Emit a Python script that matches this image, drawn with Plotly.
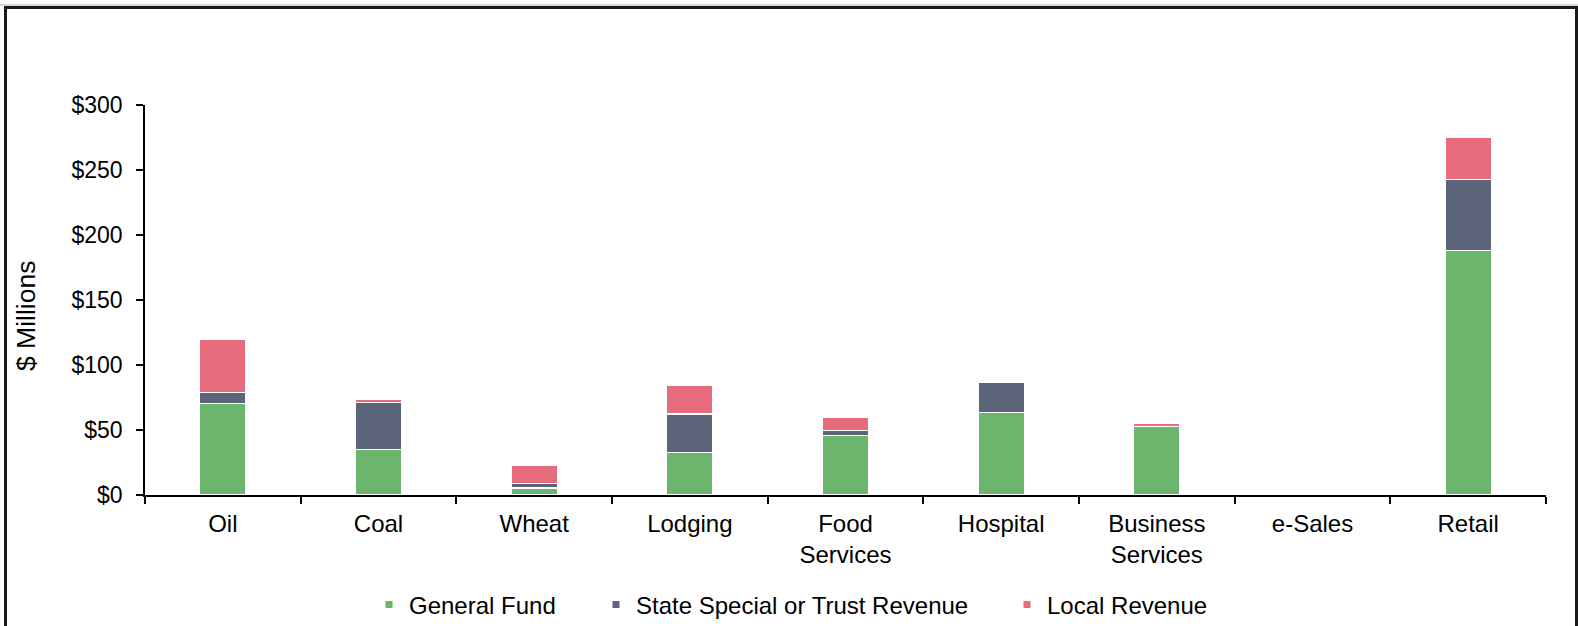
import plotly.graph_objects as go

categories = ["Oil", "Coal", "Wheat", "Lodging", "Food<br>Services", "Hospital",
              "Business<br>Services", "e-Sales", "Retail"]
general_fund = [70.3, 35.0, 5.4, 32.6, 45.7, 63.6, 52.8, 0, 188.2]
state_special = [8.7, 36.3, 3.4, 29.7, 3.8, 23.1, 0, 0, 54.6]
local_revenue = [40.5, 2.7, 14.0, 21.9, 10.0, 0, 2.4, 0, 32.6]

y_tickvals = [0, 50, 100, 150, 200, 250, 300]
y_ticktext = ["$0", "$50", "$100", "$150", "$200", "$250", "$300"]

series = [
    ("General Fund", general_fund, "#6BB66C", "legend"),
    ("State Special or Trust Revenue", state_special, "#5B6478", "legend2"),
    ("Local Revenue", local_revenue, "#E66B7D", "legend3"),
]

FONT = "Liberation Sans, Arial, sans-serif"

fig = go.Figure()
for name, vals, color, lg in series:
    fig.add_trace(go.Bar(
        x=categories, y=vals, name=name, showlegend=False,
        marker=dict(color=color, line=dict(color="white", width=1.5)),
    ))
for name, vals, color, lg in series:
    fig.add_trace(go.Scatter(
        x=[None], y=[None], mode="markers", name=name, legend=lg,
        marker=dict(symbol="square", size=7, color=color),
    ))

W, H = 1578, 626
L, R, T, B = 145, 32, 105, 131
pw, ph = W - L - R, H - T - B


def px(xp):
    return (xp - L) / pw


def py(yp):
    return (H - B - yp) / ph


legend_common = dict(orientation="h", yanchor="middle", xanchor="left",
                     xref="container", yref="container",
                     font=dict(family=FONT, size=24, color="#000"),
                     bgcolor="rgba(0,0,0,0)", borderwidth=0)
leg_y = 1 - 605 / H

fig.update_layout(
    width=W, height=H,
    margin=dict(l=L, r=R, t=T, b=B, pad=0, autoexpand=False),
    paper_bgcolor="white", plot_bgcolor="white",
    barmode="stack", bargap=0.70,
    font=dict(family=FONT, size=23, color="#000"),
    legend=dict(x=(410 - 41) / W, y=leg_y, **legend_common),
    legend2=dict(x=(637 - 41) / W, y=leg_y, **legend_common),
    legend3=dict(x=(1048 - 41) / W, y=leg_y, **legend_common),
    xaxis=dict(
        type="category", showgrid=False, showline=True, linecolor="#000", linewidth=1.5,
        ticks="outside", ticklen=7, tickcolor="#000", tickwidth=1.5,
        tickson="boundaries", tickfont=dict(family=FONT, size=24, color="#000"),
        ticklabelstandoff=6, automargin=False,
    ),
    yaxis=dict(
        range=[0, 300], showgrid=False, zeroline=False, showline=True,
        linecolor="#000", linewidth=1.5, ticks="outside", ticklen=7,
        tickcolor="#000", tickwidth=1.5, tickvals=y_tickvals, ticktext=y_ticktext,
        tickfont=dict(family=FONT, size=23, color="#000"), ticklabelstandoff=9,
        automargin=False,
    ),
    annotations=[dict(
        text="$ Millions", textangle=-90, xref="paper", yref="paper",
        x=px(26), y=py(316), xanchor="center", yanchor="middle", showarrow=False,
        font=dict(family=FONT, size=26.5, color="#000"),
    )],
    shapes=[
        dict(type="line", xref="paper", yref="paper",
             x0=px(0), x1=px(1578), y0=py(5), y1=py(5),
             line=dict(color="#cccccc", width=1.5), layer="above"),
        dict(type="rect", xref="paper", yref="paper",
             x0=px(5.5), x1=px(1576.5), y0=py(640), y1=py(7.5),
             line=dict(color="#1a1a1a", width=3), fillcolor="rgba(0,0,0,0)", layer="above"),
    ],
)

fig.write_html(
    "out.html",
    config={"displayModeBar": False},
    post_script="document.body.style.margin='0';document.body.style.overflow='hidden';",
)
